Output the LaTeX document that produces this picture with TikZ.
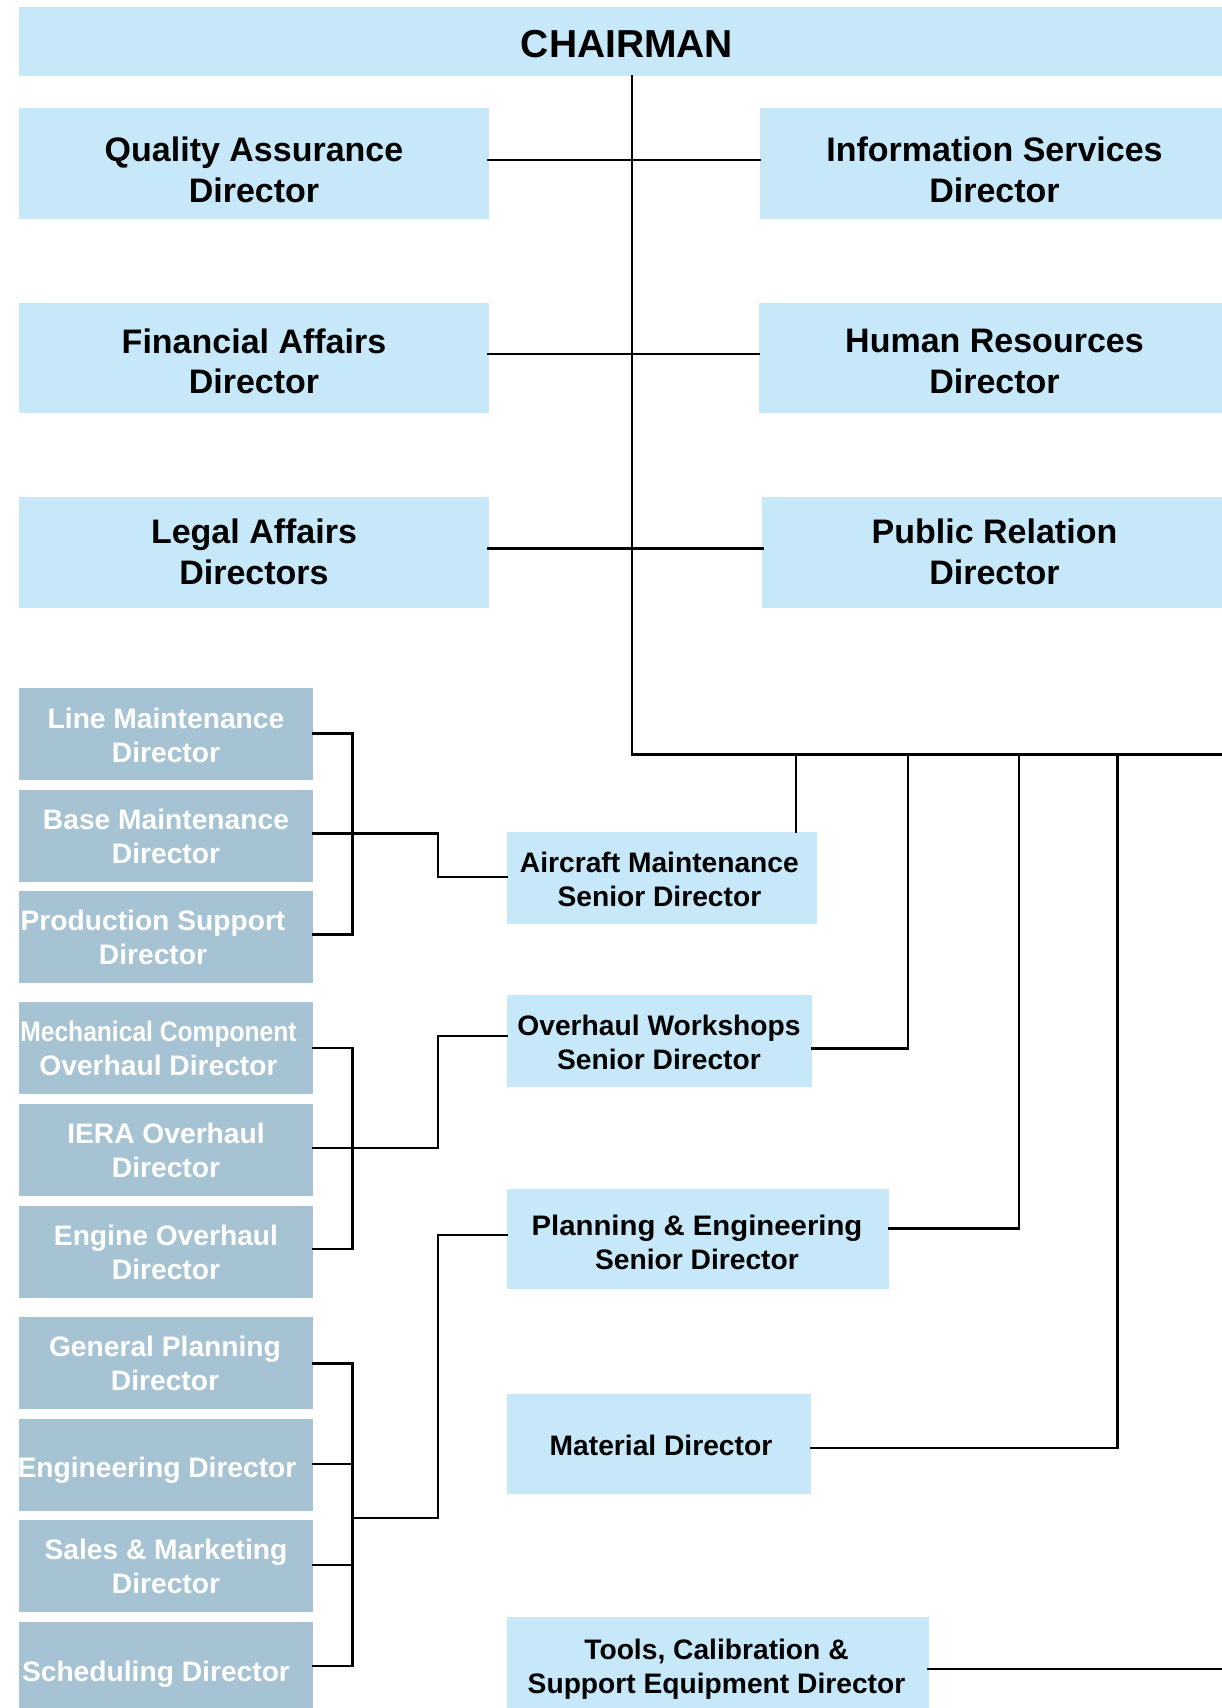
\documentclass[tikz,border=0pt]{standalone}
\usepackage{fontspec}
\usepackage{graphicx}
\setmainfont{Liberation Sans}
\definecolor{lblue}{RGB}{198,232,248}
\definecolor{gblue}{RGB}{166,195,211}
\begin{document}
\begin{tikzpicture}[x=1pt,y=-1pt,
  lbox/.style={fill=lblue, draw=none, inner sep=0pt, outer sep=0pt, anchor=north west},
  gbox/.style={fill=gblue, draw=none, inner sep=0pt, outer sep=0pt, anchor=north west},
  bigtxt/.style={font=\fontsize{34}{40.7}\selectfont\bfseries, align=center, inner sep=0pt,
    execute at begin node=\strut, execute at end node=\strut},
  smtxt/.style={font=\fontsize{28.2}{34}\selectfont\bfseries, align=center, inner sep=0pt,
    execute at begin node=\strut, execute at end node=\strut},
  wtxt/.style={smtxt, text=white},
  chtxt/.style={font=\fontsize{39}{47}\selectfont\bfseries, inner sep=0pt,
    execute at begin node=\strut},
  conn/.style={line width=2.4pt, draw=black, line cap=rect, line join=miter}
]
\useasboundingbox (0,0) rectangle (1222,1708);
\clip (0,0) rectangle (1222,1708);

% ---------- top level ----------
\node[lbox, minimum width=1240pt, minimum height=69pt] (ch) at (18.5,7) {};
\node[chtxt] (cht) at (627,47.9) {CHAIRMAN};

\node[lbox, minimum width=470pt, minimum height=111pt] (qa) at (18.5,107.7) {};
\node[bigtxt] (qat) at (254,175.7) {Quality Assurance\\Director};
\node[lbox, minimum width=480pt, minimum height=111pt] (is) at (760,107.7) {};
\node[bigtxt] (ist) at (994.5,175.7) {Information Services\\Director};

\node[lbox, minimum width=470pt, minimum height=110pt] (fa) at (18.5,303) {};
\node[bigtxt] (fat) at (254,367.3) {Financial Affairs\\Director};
\node[lbox, minimum width=480pt, minimum height=110pt] (hr) at (759,303) {};
\node[bigtxt] (hrt) at (994.5,367.3) {Human Resources\\Director};

\node[lbox, minimum width=470pt, minimum height=110.5pt] (la) at (18.5,497) {};
\node[bigtxt] (lat) at (254,558) {Legal Affairs\\Directors};
\node[lbox, minimum width=480pt, minimum height=110.5pt] (pr) at (762.4,497) {};
\node[bigtxt] (prt) at (994.5,558) {Public Relation\\Director};

% ---------- senior directors ----------
\node[lbox, minimum width=310pt, minimum height=91.7pt] (am) at (507,832) {};
\node[smtxt] (amt) at (659.4,884) {Aircraft Maintenance\\Senior Director};
\node[lbox, minimum width=305.2pt, minimum height=91.7pt] (ow) at (507,995) {};
\node[smtxt] (owt) at (659,1047.4) {Overhaul Workshops\\Senior Director};
\node[lbox, minimum width=382pt, minimum height=99.7pt] (pe) at (507,1189) {};
\node[smtxt] (pet) at (697,1247.3) {\scalebox{1.04}[1]{Planning \& Engineering}\\Senior Director};
\node[lbox, minimum width=303.8pt, minimum height=99.7pt] (md) at (507,1394) {};
\node[smtxt] (mdt) at (661,1449) {Material Director};
\node[lbox, minimum width=421.6pt, minimum height=110pt] (tc) at (507,1617) {};
\node[smtxt] (tct) at (716.5,1671.5) {Tools, Calibration \&\\Support Equipment Director};

% ---------- directors (left column) ----------
\node[gbox, minimum width=294.2pt, minimum height=91.7pt] (lm) at (19,688) {};
\node[wtxt] (lmt) at (166,740.5) {Line Maintenance\\Director};
\node[gbox, minimum width=294.2pt, minimum height=91.7pt] (bm) at (19,790) {};
\node[wtxt] (bmt) at (166,841.2) {Base Maintenance\\Director};
\node[gbox, minimum width=294.2pt, minimum height=91.7pt] (ps) at (19,891) {};
\node[wtxt] (pst) at (153,942.7) {Production Support\\Director};

\node[gbox, minimum width=294.2pt, minimum height=91.7pt] (mc) at (19,1002) {};
\node[wtxt] (mct) at (158.5,1053.5) {\scalebox{0.873}[1]{Mechanical Component}\\Overhaul Director};
\node[gbox, minimum width=294.2pt, minimum height=91.7pt] (ie) at (19,1104) {};
\node[wtxt] (iet) at (166,1155.6) {IERA Overhaul\\Director};
\node[gbox, minimum width=294.2pt, minimum height=91.7pt] (eo) at (19,1206) {};
\node[wtxt] (eot) at (166,1257.6) {Engine Overhaul\\Director};

\node[gbox, minimum width=294.2pt, minimum height=91.7pt] (gp) at (19,1317) {};
\node[wtxt] (gpt) at (165,1368.6) {General Planning\\Director};
\node[gbox, minimum width=294.2pt, minimum height=91.7pt] (ed) at (19,1419) {};
\node[wtxt] (edt) at (157,1470.7) {Engineering Director};
\node[gbox, minimum width=294.2pt, minimum height=91.7pt] (sm) at (19,1520) {};
\node[wtxt] (smt) at (166,1571.6) {Sales \& Marketing\\Director};
\node[gbox, minimum width=294.2pt, minimum height=100pt] (sd) at (19,1622) {};
\node[wtxt] (sdt) at (156,1675) {Scheduling Director};

% ---------- connector coordinates ----------
\coordinate (t0) at (632,754.3);
\coordinate (tend) at (1222,754.3);
\coordinate (r1) at (632,160);
\coordinate (r2) at (632,354);
\coordinate (r3) at (632,548.3);
\coordinate (d1) at (796,754.3);
\coordinate (d2) at (907.8,754.3);
\coordinate (d3) at (1019,754.3);
\coordinate (d4) at (1117.5,754.3);
\coordinate (e2) at (907.8,1048.3);
\coordinate (e3) at (1019,1228.3);
\coordinate (e4) at (1117.5,1447.7);
\coordinate (tcy) at (1222,1669);

% group 1
\coordinate (g1a) at (352.5,733.3);
\coordinate (g1b) at (352.5,934.3);
\coordinate (g1m) at (438,833.3);
\coordinate (g1n) at (438,876.7);
% group 2
\coordinate (g2a) at (352.5,1047.7);
\coordinate (g2b) at (352.5,1248.7);
\coordinate (g2m) at (438,1148);
\coordinate (g2n) at (438,1036);
% group 3
\coordinate (g3a) at (352.5,1363.3);
\coordinate (g3b) at (352.5,1464);
\coordinate (g3c) at (352.5,1565);
\coordinate (g3d) at (352.5,1665.7);
\coordinate (g3j) at (352.5,1518);
\coordinate (g3m) at (438,1518);
\coordinate (g3n) at (438,1235);

% ---------- connectors ----------
\draw[conn] (t0 |- ch.south) -- (t0) -- (tend);
\draw[conn] (qa.east |- r1) -- (is.west |- r1);
\draw[conn] (fa.east |- r2) -- (hr.west |- r2);
\draw[conn] (la.east |- r3) -- (pr.west |- r3);

\draw[conn] (d1) -- (d1 |- am.north);
\draw[conn] (d2) -- (e2) -- (e2 -| ow.east);
\draw[conn] (d3) -- (e3) -- (e3 -| pe.east);
\draw[conn] (d4) -- (e4) -- (e4 -| md.east);
\draw[conn] (tcy -| tc.east) -- (tcy);

\draw[conn] (g1a -| lm.east) -- (g1a) -- (g1b) -- (g1b -| ps.east);
\draw[conn] (g1m -| bm.east) -- (g1m) -- (g1n) -- (g1n -| am.west);

\draw[conn] (g2a -| mc.east) -- (g2a) -- (g2b) -- (g2b -| eo.east);
\draw[conn] (g2m -| ie.east) -- (g2m) -- (g2n) -- (g2n -| ow.west);

\draw[conn] (g3a -| gp.east) -- (g3a) -- (g3d) -- (g3d -| sd.east);
\draw[conn] (g3b -| ed.east) -- (g3b);
\draw[conn] (g3c -| sm.east) -- (g3c);
\draw[conn] (g3j) -- (g3m) -- (g3n) -- (g3n -| pe.west);
\end{tikzpicture}
\end{document}
